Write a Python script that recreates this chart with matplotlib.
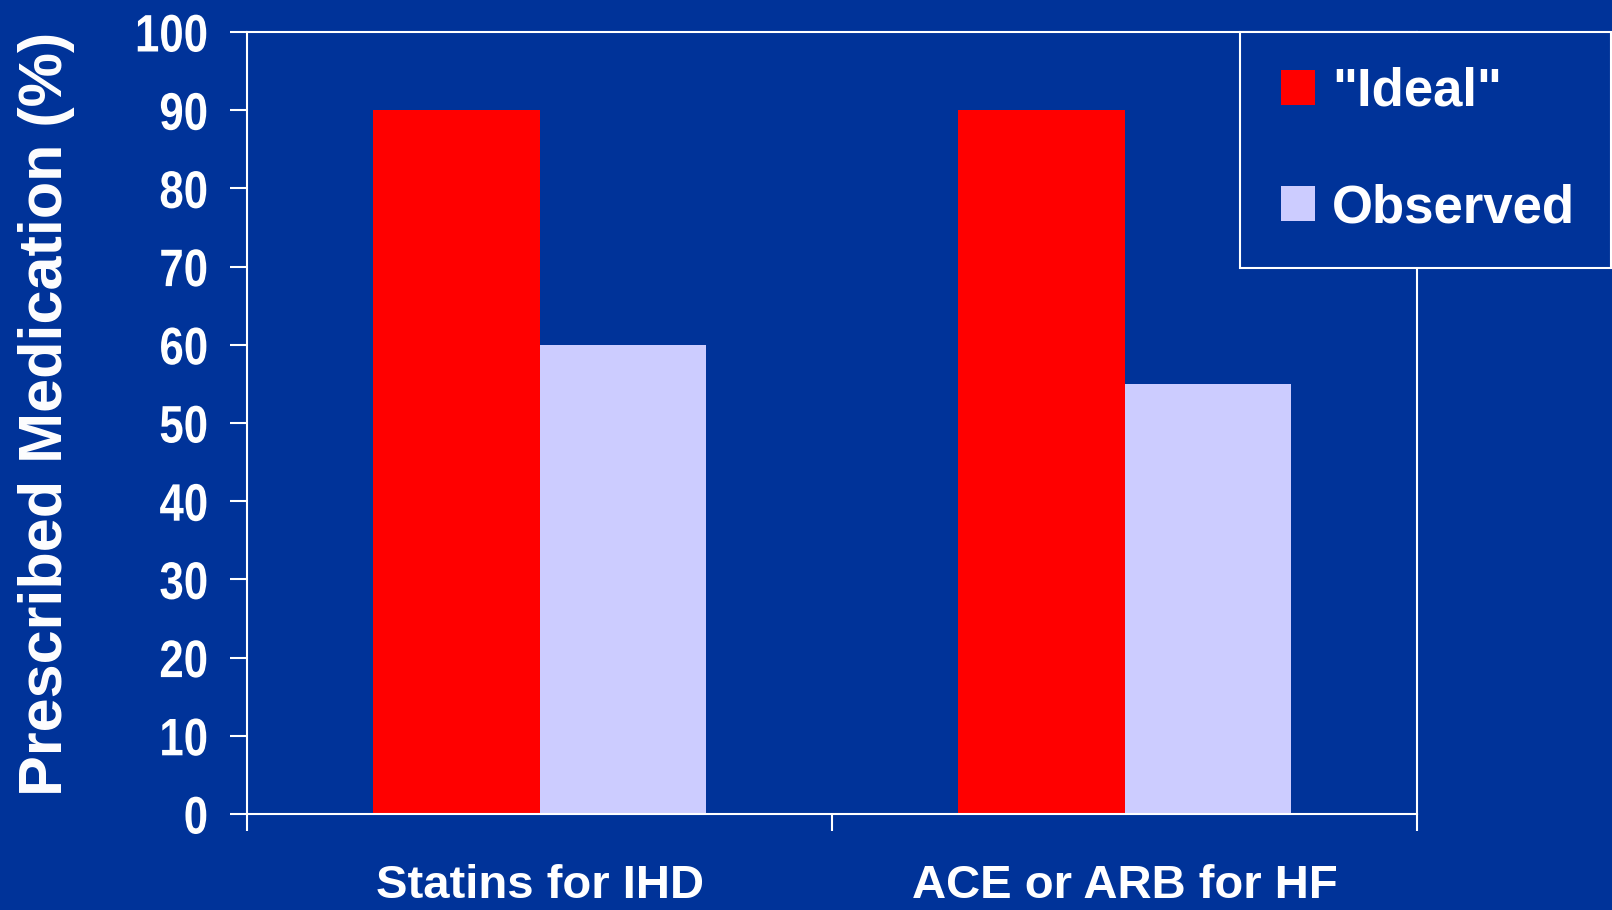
import numpy as np
import matplotlib
matplotlib.use("Agg")
import matplotlib.pyplot as plt
from matplotlib.patheffects import AbstractPathEffect
from matplotlib.transforms import Affine2D
from matplotlib.patches import Rectangle
from matplotlib.legend_handler import HandlerPatch, update_from_first_child
from matplotlib.container import BarContainer

# data
categories = ["Statins for IHD", "ACE or ARB for HF"]
series_names = ['"Ideal"', "Observed"]
ideal = [90, 90]
observed = [60, 55]
yticks = [0, 10, 20, 30, 40, 50, 60, 70, 80, 90, 100]

bg = "#003399"
red = "#FF0000"
lav = "#CCCCFF"
bold_font = ["Liberation Sans", "DejaVu Sans"]


class Squeeze(AbstractPathEffect):
    # horizontally compress glyphs around a fixed display x (narrow-font look)
    def __init__(self, sx, x0):
        super().__init__()
        self.sx = sx
        self.x0 = x0

    def draw_path(self, renderer, gc, tpath, affine, rgbFace=None):
        t = affine + Affine2D().translate(-self.x0, 0).scale(self.sx, 1).translate(self.x0, 0)
        renderer.draw_path(gc, tpath, t, rgbFace)


def square_handle(legend, orig_handle, xdescent, ydescent, width, height, fontsize):
    # square swatch pushed to the right end of the handle box
    return Rectangle((-xdescent + width - height, -ydescent), height, height)


DPI = 100
fig = plt.figure(figsize=(16.12, 9.1), dpi=DPI, facecolor=bg)
ax = fig.add_axes([247 / 1612, 1 - 814 / 910, 1170 / 1612, 782 / 910])
ax.set_facecolor(bg)

x = np.arange(len(categories))
width = 0.285
b1 = ax.bar(x - width / 2, ideal, width, color=red, label=series_names[0], zorder=2)
b2 = ax.bar(x + width / 2, observed, width, color=lav, label=series_names[1], zorder=2)

ax.set_xlim(-0.5, len(categories) - 0.5)
ax.set_ylim(0, 100)

for s in ax.spines.values():
    s.set_color("white")
    s.set_linewidth(1.5)

# y axis
ytick_len, ytick_pad = 12, 16
ax.set_yticks(yticks)
ax.set_yticklabels([str(v) for v in yticks], family=bold_font, fontweight="bold",
                   fontsize=38, color="white")
ax.tick_params(axis="y", direction="out", length=ytick_len, width=1.5, color="white", pad=ytick_pad)
x_right = ax.get_position().x0 * fig.get_figwidth() * DPI - (ytick_len + ytick_pad) * DPI / 72
for lab in ax.get_yticklabels():
    lab.set_path_effects([Squeeze(0.83, x_right)])

# x axis: tick lines on category boundaries, labels in the middle
ax.set_xticks(np.arange(-0.5, len(categories), 1.0))
ax.set_xticklabels([])
ax.tick_params(axis="x", which="major", direction="out", length=12, width=1.5, color="white")
ax.set_xticks(x, minor=True)
ax.set_xticklabels(categories, minor=True, family=bold_font, fontweight="bold",
                   fontsize=34, color="white")
ax.tick_params(axis="x", which="minor", length=0, pad=36)

ax.set_ylabel("Prescribed Medication (%)", family=bold_font, fontweight="bold",
              fontsize=44, color="white")
ax.yaxis.set_label_coords(-0.147, 0.512)

leg = ax.legend(handles=[b1, b2], loc="upper left", mode="expand",
                bbox_to_anchor=(1240 / 1612, 1 - 32 / 910, 371 / 1612, 0),
                bbox_transform=fig.transFigure,
                handler_map={BarContainer: HandlerPatch(patch_func=square_handle,
                                                        update_func=update_from_first_child)},
                prop={"family": bold_font, "weight": "bold", "size": 38},
                labelcolor="white", frameon=True, fancybox=False, facecolor=bg,
                edgecolor="white", framealpha=1, borderpad=0.66, labelspacing=1.26,
                handlelength=0.77, handleheight=0.64, handletextpad=0.32, borderaxespad=0)
leg.get_frame().set_linewidth(1.5)

fig.savefig("out.png", dpi=DPI, facecolor=bg)
